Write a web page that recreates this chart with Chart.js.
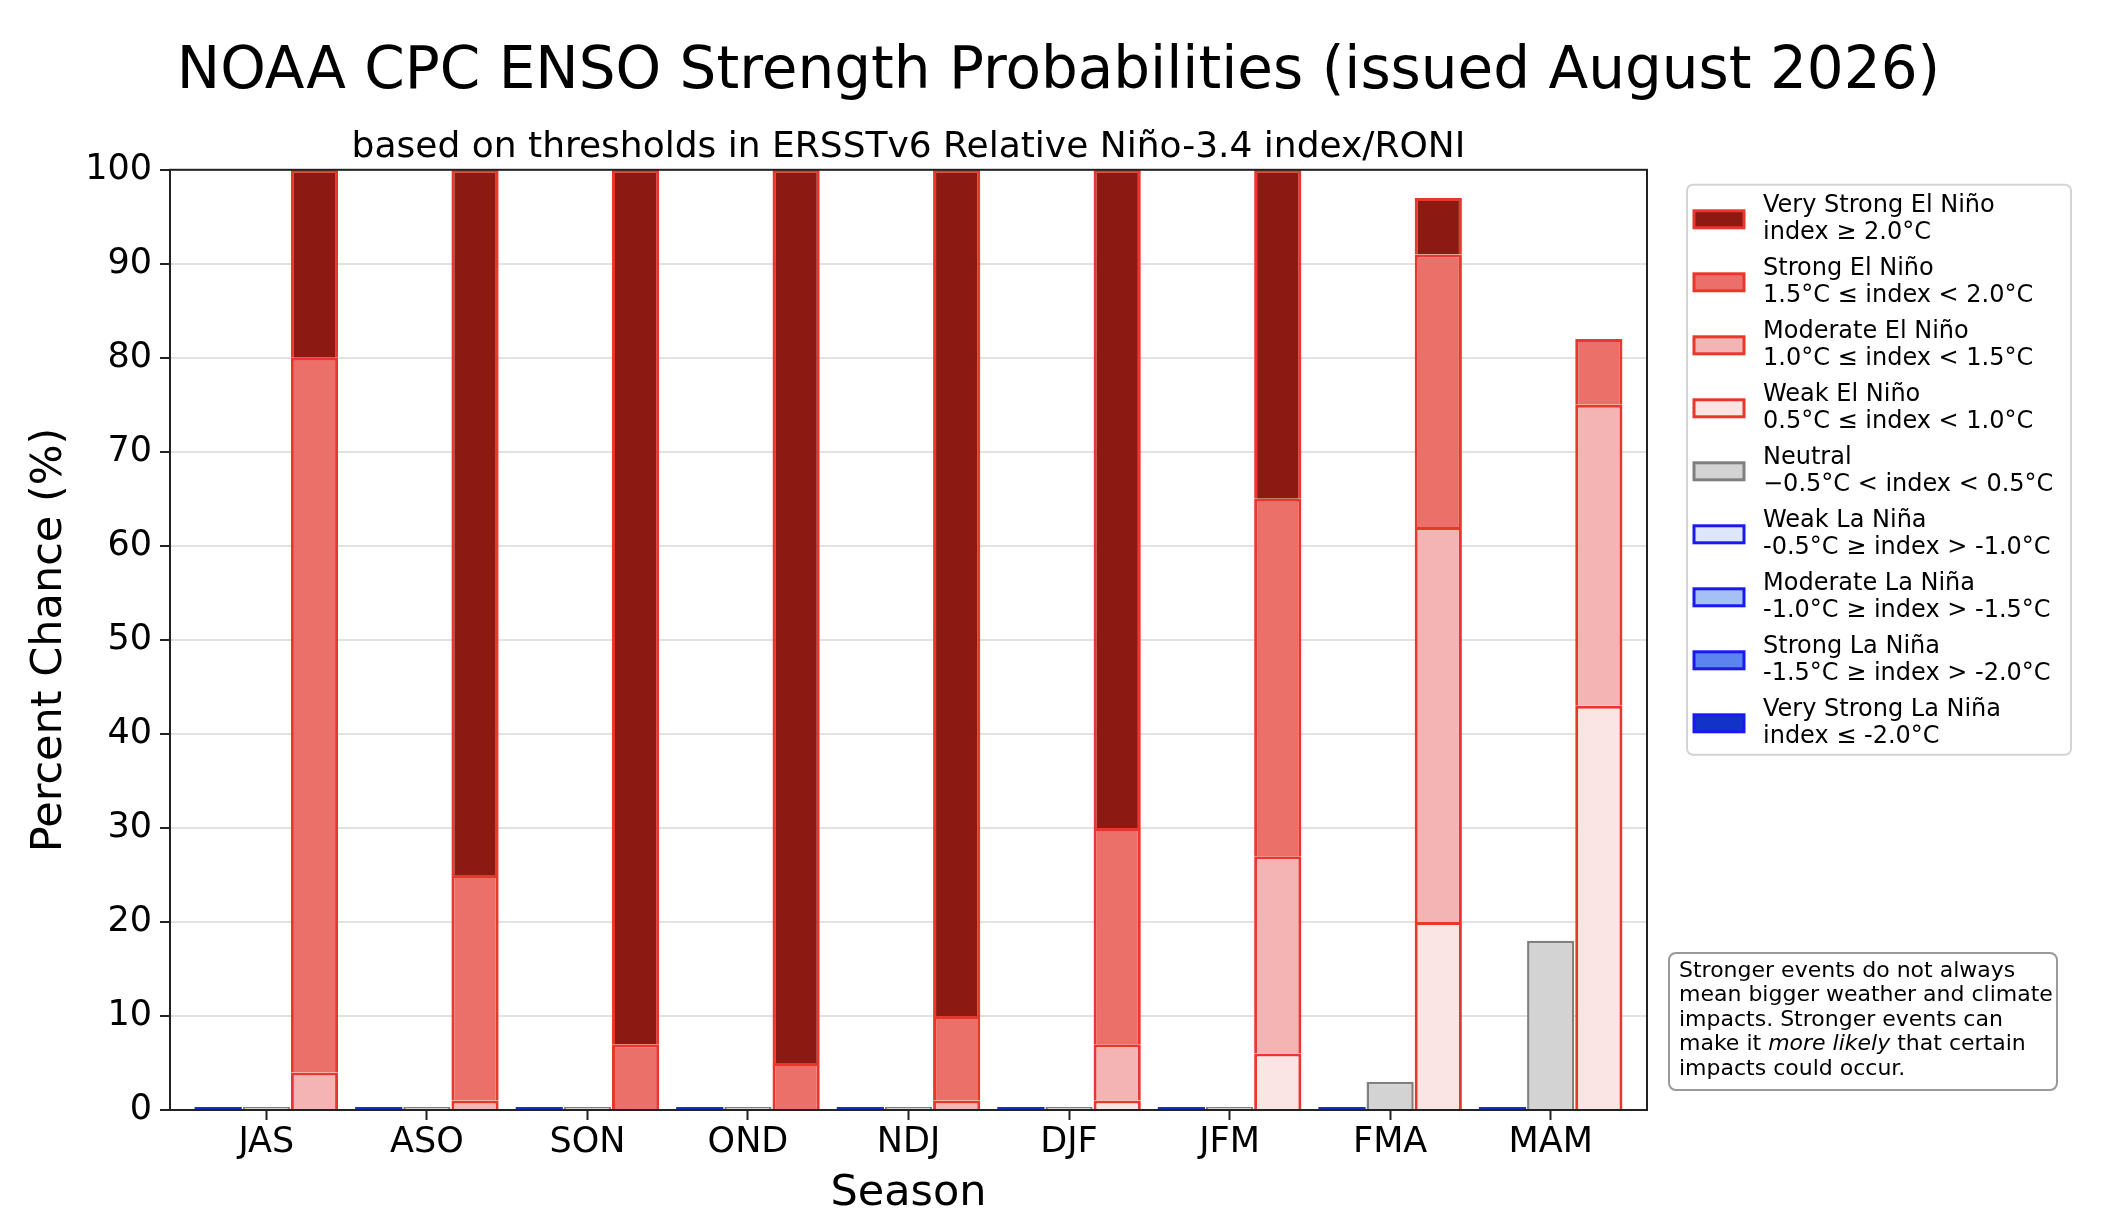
<!DOCTYPE html>
<html>
<head>
<meta charset="utf-8">
<script src="https://cdn.jsdelivr.net/npm/chart.js@4.4.1/dist/chart.umd.min.js"></script>
<style>
  html, body { margin: 0; padding: 0; background: #fff; }
  #wrap { width: 2102px; height: 1232px; }
</style>
</head>
<body>
<div id="wrap"><canvas id="ensoChart" width="2102" height="1232"></canvas></div>
<script>
// Valores (porcentaje por estación)
const seasons = ['JAS', 'ASO', 'SON', 'OND', 'NDJ', 'DJF', 'JFM', 'FMA', 'MAM'];
const veryStrongElNino = [20, 75, 93, 95, 90, 70, 35, 6, 0];
const strongElNino = [76, 24, 7, 5, 9, 23, 38, 29, 7];
const moderateElNino = [4, 1, 0, 0, 1, 6, 21, 42, 32];
const weakElNino = [0, 0, 0, 0, 0, 1, 6, 20, 43];
const neutral = [0, 0, 0, 0, 0, 0, 0, 3, 18];
const weakLaNina = [0, 0, 0, 0, 0, 0, 0, 0, 0];
const moderateLaNina = [0, 0, 0, 0, 0, 0, 0, 0, 0];
const strongLaNina = [0, 0, 0, 0, 0, 0, 0, 0, 0];
const veryStrongLaNina = [0, 0, 0, 0, 0, 0, 0, 0, 0];
const yTicks = [0, 10, 20, 30, 40, 50, 60, 70, 80, 90, 100];

const categoryNames = [
    'Very Strong El Niño', 'Strong El Niño', 'Moderate El Niño', 'Weak El Niño', 'Neutral',
    'Weak La Niña', 'Moderate La Niña', 'Strong La Niña', 'Very Strong La Niña'
];
const thresholdTexts = [
    'index ≥ 2.0°C', '1.5°C ≤ index < 2.0°C', '1.0°C ≤ index < 1.5°C', '0.5°C ≤ index < 1.0°C',
    '\u22120.5°C < index < 0.5°C', '-0.5°C ≥ index > -1.0°C', '-1.0°C ≥ index > -1.5°C',
    '-1.5°C ≥ index > -2.0°C', 'index ≤ -2.0°C'
];

document.addEventListener('DOMContentLoaded', function() {
    initEnsoChart();
});

function makeSet(label, values, stack, fill, edge, extra) {
    return Object.assign({
        label: label,
        data: values.map((v, i) => ({ x: i, y: v })),
        stack: stack,
        yAxisID: 'y',
        backgroundColor: fill,
        borderColor: edge,
        borderWidth: 3,
        borderSkipped: 'start',
        categoryPercentage: 0.9,
        barPercentage: 0.98
    }, extra || {});
}

function roundRect(ctx, x, y, w, h, r) {
    ctx.beginPath();
    ctx.moveTo(x + r, y);
    ctx.arcTo(x + w, y, x + w, y + h, r);
    ctx.arcTo(x + w, y + h, x, y + h, r);
    ctx.arcTo(x, y + h, x, y, r);
    ctx.arcTo(x, y, x + w, y, r);
    ctx.closePath();
}

const ensoDecor = {
    id: 'ensoDecor',
    afterDatasetsDraw(chart) {
        const { ctx, chartArea: a } = chart;
        ctx.save();
        ctx.strokeStyle = '#222';
        ctx.lineWidth = 2;
        ctx.strokeRect(a.left, a.top, a.right - a.left, a.bottom - a.top);
        ctx.restore();
    },
    afterDraw(chart) {
        const { ctx, chartArea: a } = chart;
        const font = '24px "DejaVu Sans"';
        ctx.save();

        // leyenda
        const lx = a.right + 40, ly = a.top + 15, lw = 384, lh = 570;
        roundRect(ctx, lx, ly, lw, lh, 6);
        ctx.fillStyle = 'rgba(255,255,255,0.9)';
        ctx.fill();
        ctx.strokeStyle = '#d4d4d4';
        ctx.lineWidth = 2;
        ctx.stroke();

        categoryNames.forEach((name, i) => {
            const ds = chart.data.datasets.find(d => d.label === name);
            const cy = ly + 34.5 + i * 63;
            ctx.fillStyle = ds.backgroundColor;
            ctx.fillRect(lx + 7, cy - 8.5, 50, 17);
            ctx.strokeStyle = ds.borderColor;
            ctx.lineWidth = 3;
            ctx.strokeRect(lx + 7, cy - 8.5, 50, 17);
            ctx.fillStyle = '#000';
            ctx.font = font;
            ctx.textBaseline = 'middle';
            ctx.textAlign = 'left';
            ctx.fillText(name, lx + 76, cy - 13.5);
            ctx.fillText(thresholdTexts[i], lx + 76, cy + 13.5);
        });

        // nota
        const nx = a.right + 22, ny = a.bottom - 157, nw = 388, nh = 137;
        roundRect(ctx, nx, ny, nw, nh, 7);
        ctx.fillStyle = '#fff';
        ctx.fill();
        ctx.strokeStyle = '#999';
        ctx.lineWidth = 2;
        ctx.stroke();

        const nFont = '22px "DejaVu Sans"';
        const nItalic = 'italic 22px "DejaVu Sans"';
        const tx = nx + 10;
        let ty = ny + 18;
        ctx.fillStyle = '#000';
        ctx.textBaseline = 'middle';
        ctx.font = nFont;
        ctx.fillText('Stronger events do not always', tx, ty); ty += 24.5;
        ctx.fillText('mean bigger weather and climate', tx, ty); ty += 24.5;
        ctx.fillText('impacts. Stronger events can', tx, ty); ty += 24.5;
        let x = tx;
        ctx.fillText('make it ', x, ty); x += ctx.measureText('make it ').width;
        ctx.font = nItalic;
        ctx.fillText('more likely', x, ty); x += ctx.measureText('more likely').width;
        ctx.font = nFont;
        ctx.fillText(' that certain', x, ty); ty += 24.5;
        ctx.fillText('impacts could occur.', tx, ty);

        ctx.restore();
    }
};

function initEnsoChart() {
    const ctx = document.getElementById('ensoChart');
    Chart.defaults.font.family = '"DejaVu Sans", sans-serif';
    Chart.defaults.color = '#000';

    const red = '#e8372c';
    const blue = '#1a1aee';
    const datasets = [
        makeSet('Very Strong La Niña', veryStrongLaNina, 'nina', '#1232c8', blue, { minBarLength: 3, borderWidth: 0 }),
        makeSet('Strong La Niña', strongLaNina, 'nina', '#5b84ee', blue),
        makeSet('Moderate La Niña', moderateLaNina, 'nina', '#a6bff5', blue),
        makeSet('Weak La Niña', weakLaNina, 'nina', '#dde6fa', blue),
        makeSet('Neutral', neutral, 'neutral', '#d3d3d3', '#808080', { minBarLength: 3, borderWidth: 2.5 }),
        makeSet('Weak El Niño', weakElNino, 'nino', '#fbe4e4', red),
        makeSet('Moderate El Niño', moderateElNino, 'nino', '#f4b4b4', red),
        makeSet('Strong El Niño', strongElNino, 'nino', '#ec706a', red),
        makeSet('Very Strong El Niño', veryStrongElNino, 'nino', '#8c1912', red)
    ];

    new Chart(ctx, {
        type: 'bar',
        data: { datasets: datasets },
        plugins: [ensoDecor],
        options: {
            responsive: false,
            devicePixelRatio: 1,
            animation: false,
            layout: { padding: { left: 15, right: 0, top: 0, bottom: 12 } },
            plugins: {
                legend: { display: false },
                tooltip: { enabled: false },
                title: {
                    display: true,
                    text: 'NOAA CPC ENSO Strength Probabilities (issued August 2026)',
                    color: '#000',
                    font: { size: 58, weight: 'normal' },
                    padding: { top: 38, bottom: 10 }
                },
                subtitle: {
                    display: true,
                    fullSize: false,
                    text: 'based on thresholds in ERSSTv6 Relative Niño-3.4 index/RONI',
                    color: '#000',
                    font: { size: 36, weight: 'normal' },
                    padding: { top: 8, bottom: 1 }
                }
            },
            scales: {
                x: {
                    type: 'linear',
                    min: -0.6,
                    max: 8.6,
                    offset: false,
                    afterBuildTicks: s => { s.ticks = seasons.map((_, i) => ({ value: i })); },
                    ticks: {
                        callback: v => seasons[v],
                        font: { size: 35 },
                        color: '#000',
                        padding: 2,
                        autoSkip: false,
                        maxRotation: 0
                    },
                    grid: { drawOnChartArea: false, offset: false, tickLength: 10, tickColor: '#222', tickWidth: 2 },
                    border: { display: false },
                    title: { display: true, text: 'Season', color: '#000', font: { size: 43 }, padding: { top: 0, bottom: 0 } },
                    afterFit: s => { s.height = 110; }
                },
                y: {
                    type: 'linear',
                    stacked: true,
                    min: 0,
                    max: 100,
                    afterBuildTicks: s => { s.ticks = yTicks.map(v => ({ value: v })); },
                    ticks: { font: { size: 35 }, color: '#000', padding: 8 },
                    grid: { color: '#e2e2e2', lineWidth: 2, tickLength: 10, tickColor: '#222', tickWidth: 2 },
                    border: { display: false },
                    title: { display: true, text: 'Percent Chance (%)', color: '#000', font: { size: 43 }, padding: { top: 9, bottom: 0 } },
                    afterFit: s => { s.width = 155; }
                },
                pad: {
                    axis: 'y',
                    type: 'linear',
                    position: 'right',
                    display: true,
                    grid: { display: false },
                    border: { display: false },
                    ticks: { display: false },
                    afterFit: s => { s.width = 455; }
                }
            }
        }
    });
}
</script>
</body>
</html>
